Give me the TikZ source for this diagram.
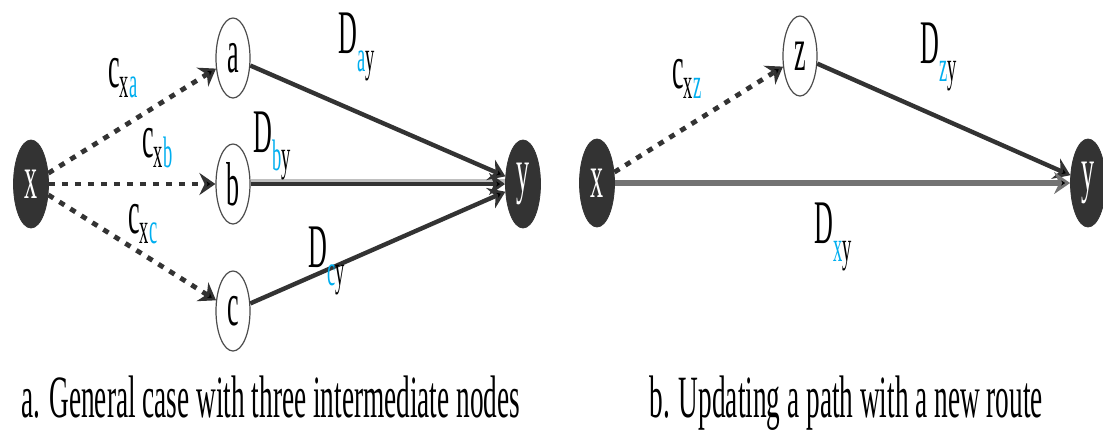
\documentclass[tikz,border=0pt]{standalone}
\usepackage{fontspec}
\setmainfont[FakeStretch=0.42]{Liberation Serif}
\newfontfamily\captionfont[FakeStretch=0.455]{Liberation Serif}
\usetikzlibrary{arrows.meta, shapes.geometric}
\definecolor{mycyan}{HTML}{00AEEF}
\definecolor{mydark}{HTML}{333333}
\newcommand{\labelfont}{\fontsize{31}{33}\selectfont}
\newcommand{\subfont}{\fontsize{22}{23}\selectfont}
\newcommand{\ccost}[2]{c\raisebox{-5pt}{\subfont #1\textcolor{mycyan}{#2}}}
\newcommand{\dcost}[2]{D\raisebox{-9pt}{\subfont\textcolor{mycyan}{#1}#2}}
\tikzset{
	endnode/.style={
			ellipse,
			draw=mydark,
			fill=mydark,
			text=white,
			minimum width=17.5pt,
			minimum height=44pt,
			inner sep=0pt,
			font=\labelfont
		},
	midnode/.style={
			ellipse,
			draw=black!70,
			line width=0.6pt,
			fill=white,
			minimum width=17pt,
			minimum height=40pt,
			inner sep=0pt,
			font=\labelfont
		},
	costedge/.style={
			-{Stealth[length=8pt, width=11pt]},
			draw=mydark,
			line width=2.4pt,
			dash pattern=on 3pt off 3.5pt
		},
	distedge/.style={
			-{Stealth[length=8pt, width=11pt]},
			draw=mydark,
			line width=2.2pt
		},
	glowedge/.style={
			draw=black!25,
			line width=2pt
		},
	directedge/.style={
			-{Stealth[length=8pt, width=11pt]},
			draw=black!55,
			line width=3.2pt
		},
	costlabel/.style={
			anchor=base west,
			inner sep=0pt,
			font=\labelfont
		},
	captiontext/.style={
			anchor=base west,
			inner sep=0pt,
			font=\captionfont\fontsize{30}{32}\selectfont
		}
}

\begin{document}
\begin{tikzpicture}[x=0.5pt, y=-0.5pt]
				\useasboundingbox (0, 0) rectangle (1103, 430);

				% a. three intermediate nodes
				\node[endnode] (x1) at (31, 184) {x};
				\node[midnode] (na) at (233, 58) {a};
				\node[midnode] (nb) at (233, 184) {b};
				\node[midnode] (nc) at (233, 311) {c};
				\node[endnode] (y1) at (523, 184) {y};

				\draw[costedge] (x1) edge (na);
				\draw[costedge] (x1) edge (nb);
				\draw[costedge] (x1) edge (nc);

				\draw[glowedge] ([yshift=1.5pt]nb.east) -- ([yshift=1.5pt]y1.west);
				\draw[distedge] (na) edge (y1);
				\draw[distedge] (nb) edge (y1);
				\draw[distedge] (nc) edge (y1);

				\node[costlabel] (lxa) at (108, 87) {\ccost{x}{a}};
				\node[costlabel] (lxb) at (142, 157) {\ccost{x}{b}};
				\node[costlabel] (lxc) at (128, 233) {\ccost{x}{c}};
				\node[costlabel] (lay) at (338, 53) {\dcost{a}{y}};
				\node[costlabel] (lby) at (253, 152) {\dcost{b}{y}};
				\node[costlabel] (lcy) at (308, 267) {\dcost{c}{y}};

				% b. a new route
				\node[endnode] (x2) at (597, 183) {x};
				\node[midnode] (nz) at (800, 56) {z};
				\node[endnode] (y2) at (1088, 183) {y};

				\draw[costedge] (x2) edge (nz);
				\draw[distedge] (nz) edge (y2);
				\draw[directedge] (x2) edge (y2);

				\node[costlabel] (lxz) at (672, 88) {\ccost{x}{z}};
				\node[costlabel] (lzy) at (920, 63) {\dcost{z}{y}};
				\node[costlabel] (lxy) at (814, 243) {\dcost{x}{y}};

				\node[captiontext] (capa) at (21, 417) {a. General case with three intermediate nodes};
				\node[captiontext] (capb) at (649, 417) {b. Updating a path with a new route};
			\end{tikzpicture}
\end{document}
